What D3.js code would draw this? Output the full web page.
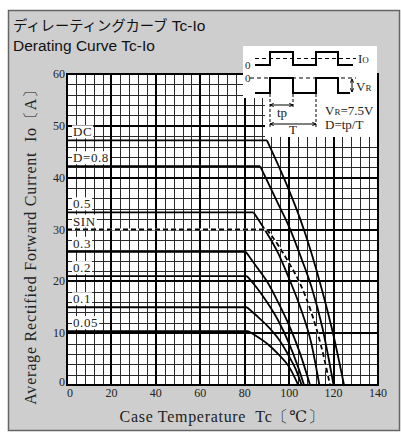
<!DOCTYPE html>
<html lang="ja">
<head>
<meta charset="UTF-8">
<title>Derating Curve Tc-Io</title>
<style>
  html, body { margin: 0; padding: 0; background: #fff; }
  svg { display: block; }
  .serif { font-family: "Liberation Serif", "DejaVu Serif", serif; fill: #222; white-space: pre; }
</style>
</head>
<body>
<div id="chart"></div>
<script src="https://cdn.jsdelivr.net/npm/d3@7"></script>
<script>
// ticks
const xTicks = [0, 20, 40, 60, 80, 100, 120, 140];
const yTicks = [0, 10, 20, 30, 40, 50, 60];

// curve labels, top to bottom
const curveNames = ["DC", "D=0.8", "0.5", "SIN", "0.3", "0.2", "0.1", "0.05"];

// [Tc, Io]
const curveDC  = [[0, 47.2], [90, 47.2], [95, 42.5], [100, 37.5], [105, 32], [110, 25.5], [115, 18], [120, 9.5], [124.7, 0]];
const curve08  = [[0, 42.2], [87, 42.2], [90, 39.5], [95, 35], [100, 30.5], [105, 25], [110, 19], [115, 11], [120, 0]];
const curve05  = [[0, 33.3], [84, 33.3], [89, 30], [95, 25.5], [100, 20.5], [105, 15], [110, 8], [113.6, 0]];
const curveSIN = [[0, 30], [90, 30], [95, 27], [100, 23.5], [105, 19.5], [110, 14], [115, 6.5], [118.4, 0]];
const curve03  = [[0, 25.7], [80.5, 25.7], [85, 23], [90, 20], [95, 16], [100, 11.5], [105, 6], [109.4, 0]];
const curve02  = [[0, 21], [81, 21], [85, 19], [90, 16], [95, 12.5], [100, 8], [104, 3.5], [106.7, 0]];
const curve01  = [[0, 15], [81, 15], [85, 13.5], [90, 11.5], [95, 9], [100, 5.5], [103, 3], [105.6, 0]];
const curve005 = [[0, 10.4], [81.5, 10.4], [85, 9.5], [90, 8], [95, 6], [100, 3.5], [104.1, 0]];

const curves = [curveDC, curve08, curve05, curveSIN, curve03, curve02, curve01, curve005];

const W = 401, H = 432;
const svg = d3.select("#chart").append("svg")
    .attr("width", W).attr("height", H);

// grey panel
svg.append("rect")
    .attr("x", 8.5).attr("y", 10.5)
    .attr("width", 391).attr("height", 420)
    .attr("fill", "#cecece")
    .attr("stroke", "#666").attr("stroke-width", 1.5);

// title
const title = svg.append("g").attr("font-family", "Liberation Sans, Arial, sans-serif").attr("fill", "#111");
title.append("text").attr("x", 13).attr("y", 31).attr("font-size", 15.5)
    .call(t => {
      t.append("tspan").attr("font-family", "Noto Sans CJK JP").attr("font-size", 14.3).text("ディレーティングカーブ");
      t.append("tspan").text(" Tc-Io");
    });
title.append("text").attr("x", 13).attr("y", 51).attr("font-size", 15.5).text("Derating Curve Tc-Io");

const x = d3.scaleLinear().domain([0, 140]).range([67, 378]);
const y = d3.scaleLinear().domain([0, 60]).range([385, 74]);

const plot = svg.append("g");
plot.append("rect")
    .attr("x", x(0)).attr("y", y(60))
    .attr("width", x(140) - x(0)).attr("height", y(0) - y(60))
    .attr("fill", "#fff");

// grid: 4 degC / 2 A minor, 20 degC / 10 A major
const vMinor = d3.range(0, 141, 4).filter(v => v % 20 !== 0);
const hMinor = d3.range(0, 61, 2).filter(v => v % 10 !== 0);
const px = v => Math.round(v) + 0.5;
const grid = plot.append("g").attr("shape-rendering", "crispEdges");
grid.selectAll(".vmin").data(vMinor).join("line")
    .attr("x1", d => px(x(d))).attr("x2", d => px(x(d)))
    .attr("y1", y(0)).attr("y2", y(60))
    .attr("stroke", "#2a2a2a").attr("stroke-width", 1);
grid.selectAll(".hmin").data(hMinor).join("line")
    .attr("y1", d => px(y(d))).attr("y2", d => px(y(d)))
    .attr("x1", x(0)).attr("x2", x(140))
    .attr("stroke", "#2a2a2a").attr("stroke-width", 1);
grid.selectAll(".vmaj").data(xTicks).join("line")
    .attr("x1", d => Math.round(x(d))).attr("x2", d => Math.round(x(d)))
    .attr("y1", y(0)).attr("y2", y(60))
    .attr("stroke", "#000").attr("stroke-width", 2);
grid.selectAll(".hmaj").data(yTicks).join("line")
    .attr("y1", d => Math.round(y(d))).attr("y2", d => Math.round(y(d)))
    .attr("x1", x(0)).attr("x2", x(140))
    .attr("stroke", "#000").attr("stroke-width", 2);

// tick labels
svg.append("g").attr("class", "serif").attr("font-size", 12).attr("text-anchor", "middle")
  .selectAll("text").data(xTicks).join("text")
    .attr("x", d => x(d) + (d === 0 ? 3 : 0)).attr("y", y(0) + 12)
    .text(d => d);
svg.append("g").attr("class", "serif").attr("font-size", 12).attr("text-anchor", "end")
  .selectAll("text").data(yTicks).join("text")
    .attr("x", x(0) - 2).attr("y", d => y(d) + (d === 0 ? 1 : 4))
    .text(d => d);

// axis titles
svg.append("text").attr("class", "serif").attr("font-size", 16).attr("letter-spacing", 0.7)
    .attr("text-anchor", "middle")
    .attr("x", 222).attr("y", 422).text("Case Temperature  Tc〔℃〕");
svg.append("text").attr("class", "serif").attr("font-size", 16).attr("letter-spacing", 0.8)
    .attr("text-anchor", "middle")
    .attr("transform", `translate(36,243) rotate(-90)`)
    .text("Average Rectified Forward Current  Io〔A〕");

// inset (white backing)
const inset = svg.append("g");
inset.append("rect").attr("x", 243).attr("y", 46).attr("width", 134).attr("height", 52).attr("fill", "#fff");
inset.append("rect").attr("x", 265).attr("y", 96).attr("width", 112).attr("height", 41).attr("fill", "#fff");

// curves
const flat = d3.line().x(d => x(d[0])).y(d => y(d[1]));
const bend = d3.line().x(d => x(d[0])).y(d => y(d[1])).curve(d3.curveMonotoneX);
curves.forEach((c, i) => {
  const dashed = curveNames[i] === "SIN";
  const g = plot.append("g").attr("fill", "none").attr("stroke-width", 1.8);
  [flat(c.slice(0, 2)), bend(c.slice(1))].forEach(p => {
    if (dashed) g.append("path").attr("d", p).attr("stroke", "#fff").attr("stroke-width", 2);
    g.append("path").attr("d", p).attr("stroke", "#000")
      .attr("stroke-dasharray", dashed ? "5,3" : null);
  });
  // label with white box, sitting just above the flat part
  const lab = plot.append("g").attr("transform", `translate(73,${y(c[0][1]) - 8.5})`);
  const t = lab.append("text").attr("class", "serif").attr("font-size", 13).attr("letter-spacing", 0.6)
      .attr("dominant-baseline", "central").text(curveNames[i]);
  const b = t.node().getBBox();
  lab.insert("rect", "text").attr("x", b.x - 1).attr("y", b.y + 1)
      .attr("width", b.width + 2).attr("height", b.height - 2).attr("fill", "#fff");
});

// plot border
plot.append("rect")
    .attr("x", x(0)).attr("y", y(60))
    .attr("width", x(140) - x(0)).attr("height", y(0) - y(60))
    .attr("fill", "none").attr("stroke", "#000").attr("stroke-width", 2);

// waveform sketch
const wave = svg.append("g").attr("fill", "none").attr("stroke", "#000");
const ioWave = [[255, 65], [270, 65], [270, 52], [293, 52], [293, 65], [316, 65], [316, 52], [338, 52], [338, 65], [353, 65]];
const vrWave = [[255, 93], [270, 93], [270, 78], [293, 78], [293, 93], [316, 93], [316, 78], [338, 78], [338, 93], [350, 93]];
wave.append("path").attr("d", d3.line()(ioWave)).attr("stroke-width", 2);
wave.append("path").attr("d", d3.line()(vrWave)).attr("stroke-width", 2);
wave.append("line").attr("x1", 255).attr("x2", 356).attr("y1", 58.5).attr("y2", 58.5).attr("stroke-dasharray", "4,3");
wave.append("line").attr("x1", 250).attr("x2", 356).attr("y1", 78).attr("y2", 78).attr("stroke-dasharray", "4,3");
// dashed drops for tp / T
[[270, 94, 128], [293, 94, 109], [316, 94, 128]].forEach(d =>
  wave.append("line").attr("x1", d[0]).attr("x2", d[0]).attr("y1", d[1]).attr("y2", d[2]).attr("stroke-dasharray", "3,2"));
const arrow = (x1, y1, x2, y2) => {
  wave.append("line").attr("x1", x1).attr("y1", y1).attr("x2", x2).attr("y2", y2);
  const a = Math.atan2(y2 - y1, x2 - x1);
  [[x1, y1, a], [x2, y2, a + Math.PI]].forEach(([ax, ay, ang]) => {
    const p = [[ax + 4 * Math.cos(ang - 0.4), ay + 4 * Math.sin(ang - 0.4)], [ax, ay], [ax + 4 * Math.cos(ang + 0.4), ay + 4 * Math.sin(ang + 0.4)]];
    wave.append("path").attr("d", d3.line()(p));
  });
};
arrow(270, 105, 293, 105);
arrow(270, 124, 316, 124);
arrow(352, 79, 352, 92);
const insetText = svg.append("g").attr("class", "serif").attr("font-size", 13);
insetText.append("text").attr("x", 245).attr("y", 69).attr("font-size", 11).text("0");
insetText.append("text").attr("x", 245).attr("y", 82).attr("font-size", 11).text("0");
insetText.append("text").attr("x", 358).attr("y", 63).call(t => { t.append("tspan").text("I"); t.append("tspan").attr("font-size", 9).text("O"); });
insetText.append("text").attr("x", 356).attr("y", 91).call(t => { t.append("tspan").text("V"); t.append("tspan").attr("font-size", 9).text("R"); });
insetText.append("text").attr("x", 277).attr("y", 117).text("tp");
insetText.append("text").attr("x", 289).attr("y", 134).text("T");
insetText.append("text").attr("x", 325).attr("y", 115).call(t => { t.append("tspan").text("V"); t.append("tspan").attr("font-size", 9).text("R"); t.append("tspan").text("=7.5V"); });
insetText.append("text").attr("x", 325).attr("y", 129).text("D=tp/T");
</script>
</body>
</html>
